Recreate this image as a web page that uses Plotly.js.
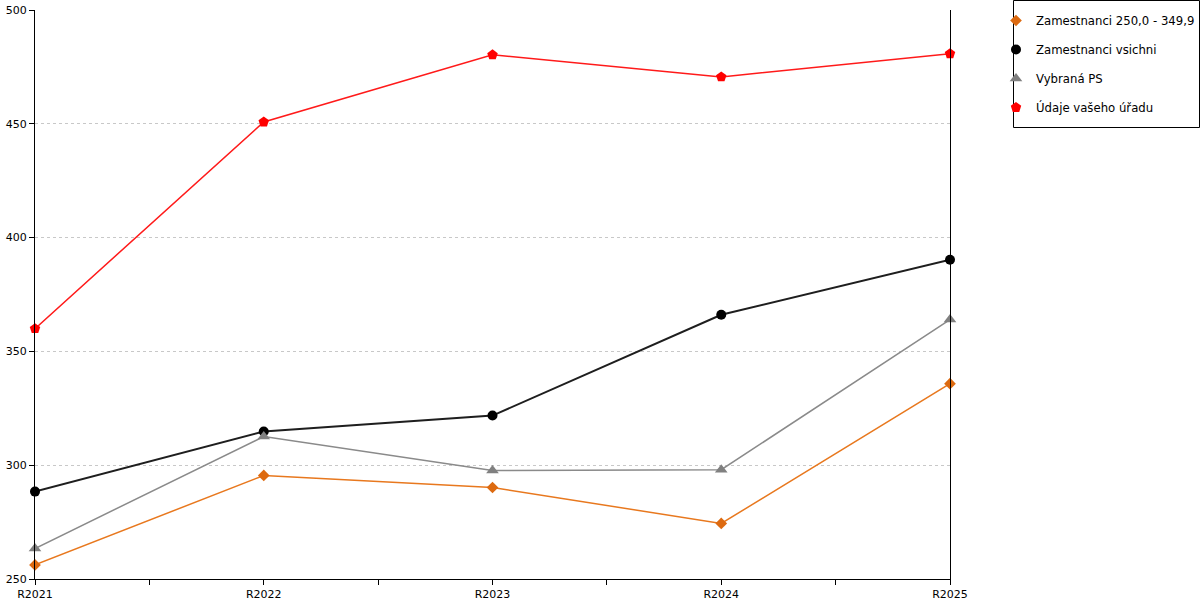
<!DOCTYPE html>
<html>
<head>
<meta charset="utf-8">
<script src="https://cdn.plot.ly/plotly-3.0.1.min.js"></script>
<style>
  html, body { margin: 0; padding: 0; background: #fff; }
  #chart { width: 1200px; height: 600px; }
</style>
</head>
<body>
<div id="chart"></div>
<script>
// roky na ose x
const categories = ['R2021', 'R2022', 'R2023', 'R2024', 'R2025'];

// hodnoty jednotlivých řad
const zam250 = [256.2, 295.5, 290.2, 274.4, 335.8];
const zamVsichni = [288.4, 314.8, 321.8, 366.1, 390.3];
const vybranaPS = [263.4, 312.6, 297.7, 298.0, 364.0];
const udajeUradu = [360.0, 450.8, 480.3, 470.6, 480.8];

const seriesNames = ['Zamestnanci 250,0 - 349,9', 'Zamestnanci vsichni', 'Vybraná PS', 'Údaje vašeho úřadu'];

const xIdx = categories.map((c, i) => i);

// ticky na kategoriích i mezi nimi
const tickVals = [];
const tickText = [];
categories.forEach((c, i) => {
    tickVals.push(i);
    tickText.push(c);
    if (i < categories.length - 1) {
        tickVals.push(i + 0.5);
        tickText.push('');
    }
});

const styles = [
    { y: zam250, color: '#dd6a10', line: '#e8781e', symbol: 'diamond', size: 9, width: 1.5 },
    { y: zamVsichni, color: '#000000', line: '#1e1e1e', symbol: 'circle', size: 10, width: 2 },
    { y: vybranaPS, color: '#808080', line: '#8a8a8a', symbol: 'triangle-up', size: 11, width: 1.5 },
    { y: udajeUradu, color: '#ff0000', line: '#ff1a1a', symbol: 'pentagon', size: 11, width: 1.5 }
];

const data = [];
// čáry bez legendy
styles.forEach((s, i) => {
    data.push({
        x: xIdx, y: s.y, name: seriesNames[i], type: 'scatter', mode: 'lines',
        showlegend: false, cliponaxis: false,
        line: { color: s.line, width: s.width }
    });
});
// značky s legendou
styles.forEach((s, i) => {
    data.push({
        x: xIdx, y: s.y, name: seriesNames[i], type: 'scatter', mode: 'markers',
        legendgroup: 'g' + i, cliponaxis: false,
        marker: { color: s.color, symbol: s.symbol, size: s.size }
    });
});

const layout = {
    width: 1200,
    height: 600,
    margin: { l: 35, r: 250, t: 10, b: 21 },
    paper_bgcolor: '#fff',
    plot_bgcolor: '#fff',
    font: { family: 'DejaVu Sans, Verdana, sans-serif', size: 11, color: '#000' },
    showlegend: true,
    legend: {
        xref: 'container', yref: 'container',
        x: 996 / 1200, y: 1 - 6 / 600, xanchor: 'left', yanchor: 'top',
        bgcolor: 'rgba(0,0,0,0)',
        borderwidth: 0,
        font: { size: 11.7, color: '#000' },
        traceorder: 'grouped',
        tracegroupgap: 10,
        itemwidth: 30
    },
    // rámeček legendy
    shapes: [{
        type: 'rect', xref: 'paper', yref: 'paper',
        x0: (1013.5 - 35) / 915, x1: (1199.5 - 35) / 915,
        y0: (579 - 127.5) / 569, y1: (579 - 0.5) / 569,
        line: { color: '#000', width: 1 }
    }],
    xaxis: {
        type: 'linear',
        range: [0, 4],
        tickmode: 'array',
        tickvals: tickVals,
        ticktext: tickText,
        ticks: 'outside',
        ticklen: 5,
        tickcolor: '#000',
        showline: true,
        linecolor: '#000',
        linewidth: 1,
        showgrid: false,
        zeroline: false,
        automargin: false,
        fixedrange: true
    },
    yaxis: {
        range: [250, 500],
        dtick: 50,
        ticks: 'outside',
        ticklen: 5,
        tickcolor: '#000',
        showline: true,
        mirror: true,
        linecolor: '#000',
        linewidth: 1,
        showgrid: true,
        gridcolor: '#c8c8c8',
        griddash: 'dot',
        zeroline: false,
        automargin: false,
        fixedrange: true
    }
};

Plotly.newPlot('chart', data, layout, { displayModeBar: false, staticPlot: true });
</script>
</body>
</html>
